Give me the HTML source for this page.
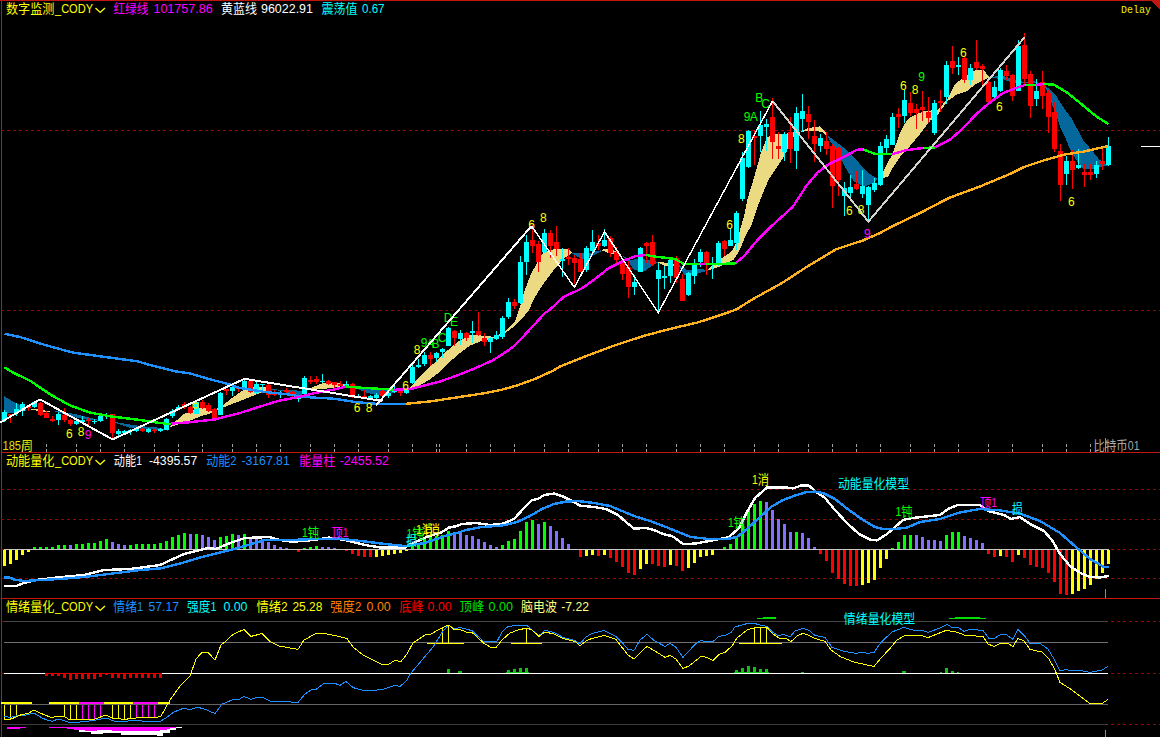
<!DOCTYPE html>
<html lang="zh"><head><meta charset="utf-8"><title>chart</title>
<style>html,body{margin:0;padding:0;background:#000;overflow:hidden}body{width:1160px;height:737px}svg text{font-family:"Liberation Sans","Noto Sans CJK SC",sans-serif;font-size:12px}svg text.mono{font-family:"Liberation Mono",monospace;font-size:11px}</style></head>
<body>
<svg width="1160" height="737" viewBox="0 0 1160 737" style="display:block">
<rect width="1160" height="737" fill="#000"/>
<g shape-rendering="crispEdges">
<rect x="0" y="0" width="1160" height="1" fill="#C01810"/>
<rect x="1" y="0" width="1" height="737" fill="#C01810"/>
<rect x="1" y="452" width="1160" height="1" fill="#C01810"/>
<rect x="1" y="598" width="1160" height="1" fill="#C01810"/>
<polygon points="1150,0 1160,0 1160,10" fill="#C01810"/>
<line x1="1" y1="130.5" x2="1160" y2="130.5" stroke="#A00000" stroke-width="1" stroke-dasharray="3 3"/>
<line x1="1" y1="310.5" x2="1160" y2="310.5" stroke="#A00000" stroke-width="1" stroke-dasharray="3 3"/>
<line x1="1" y1="489.5" x2="1160" y2="489.5" stroke="#A00000" stroke-width="1" stroke-dasharray="3 3"/>
<line x1="1" y1="519.5" x2="1160" y2="519.5" stroke="#A00000" stroke-width="1" stroke-dasharray="3 3"/>
<line x1="1" y1="549.5" x2="1160" y2="549.5" stroke="#A00000" stroke-width="1" stroke-dasharray="3 3"/>
<line x1="1" y1="578.5" x2="1160" y2="578.5" stroke="#A00000" stroke-width="1" stroke-dasharray="3 3"/>
<line x1="1" y1="621.5" x2="1160" y2="621.5" stroke="#A00000" stroke-width="1" stroke-dasharray="3 3"/>
<line x1="1" y1="673.5" x2="1160" y2="673.5" stroke="#A00000" stroke-width="1" stroke-dasharray="3 3"/>
<line x1="1" y1="724.5" x2="1160" y2="724.5" stroke="#A00000" stroke-width="1" stroke-dasharray="3 3"/>
</g>
<polygon points="4,396 12,401 20,405 27,410 27,410.3 20,411.5 12,413 4,414" fill="#04689C" shape-rendering="crispEdges"/>
<polygon points="31,408.5 38,409 50,411.5 50,412 44,411.8 36,410.5 31,409.5" fill="#ECDA82" shape-rendering="crispEdges"/>
<polygon points="55,410.8 68,412.8 75,414 87.4,417.2 97.8,419.7 108,421 108,421.5 97.8,420.6 87.4,419.8 75,417.2 68,415.4 55,411.4" fill="#04689C" shape-rendering="crispEdges"/>
<polygon points="115,422 130,424.5 141,426.2 155,427.2 168,429.5 168,430.6 155,429.6 141,428.8 130,428 123,425.5 115,422.6" fill="#04689C" shape-rendering="crispEdges"/>
<polygon points="169,427 184,414 192,411 200,408 206,408.5 212,411 222,406 232,398 244,389.5 254,387 262,386.5 270,388 270,388.5 265,391 255,395 244,399.5 232,404 222,408 212,413 200,416.5 190,420.5 180,424 169,427.5" fill="#ECDA82" shape-rendering="crispEdges"/>
<polygon points="271,389 283.6,390 301.5,390.7 305,392.5 305,393.5 300,395 290,394 283.6,391.2 271,389.6" fill="#04689C" shape-rendering="crispEdges"/>
<polygon points="309.8,388.4 316,385.8 322.6,383.2 336,383.2 347,384 347,385.5 338,386.8 330,388.2 322,389 309.8,389" fill="#ECDA82" shape-rendering="crispEdges"/>
<polygon points="346,385.5 360,387.5 380,389 394,391 394,392.5 384,394.6 378,395.2 372,394.2 365.7,392.4 357.5,389 352,387.8 346,386" fill="#04689C" shape-rendering="crispEdges"/>
<polygon points="405,392 411,386.5 420,376 432.5,364.5 445,352.5 457.5,342 470,335 482.5,335.6 495,337 505,331 515,321 519,310 524.4,291.4 531,273.8 536.6,264 543.4,252 554,249.3 567.8,248.7 572,252.7 572,253 565,257.5 560,263 555,268.5 550,275 543.4,284 535,296.8 529,310 525,315 515,326 505,333 495,338 482.5,340.6 470,345.6 457.5,355 445,366 438.6,372.8 428.3,380.5 414.5,388 405,392.6" fill="#ECDA82" shape-rendering="crispEdges"/>
<polygon points="572,252.8 584,253 590,253 595,251.6 601,250.3 601,251.5 596,254.2 592,256.2 588,257.4 581.7,259.4 576,255.7 572,253.3" fill="#04689C" shape-rendering="crispEdges"/>
<polygon points="601,251 604.5,248.7 608.5,248.5 615,250.7 622,255.4 622,255.6 615,254 608.5,253.4 604.5,251.4 601,251.2" fill="#ECDA82" shape-rendering="crispEdges"/>
<polygon points="623,256 630,260 640,258.8 650,260.3 658,262 658,262.3 652,266 645,271 640,271.5 634,269.7 630,264 623,256.3" fill="#04689C" shape-rendering="crispEdges"/>
<polygon points="658,262 664.4,262.5 679.3,264.5 679.3,265.5 672,266 664.4,265.9 658,262.3" fill="#ECDA82" shape-rendering="crispEdges"/>
<polygon points="679,265 688,270.5 700,268.5 708,270.3 708,270.6 694,274.7 684,275 679,266" fill="#04689C" shape-rendering="crispEdges"/>
<polygon points="707.8,269.5 721.4,258.4 732.2,251 737.7,239.4 740.4,228.6 744.4,215 747.5,199 755,174.3 760.8,153.4 766.5,138.2 772.2,134 785.5,134 789.3,132.5 800.7,131.6 807,128.5 814,127.2 819.7,126.4 825.4,131.6 827.3,135.4 827.3,136 822,132 814,130.6 807,131 800.7,132 795,135 789.3,142 787.4,149.6 783.6,157.2 776,168.6 768.4,180 759,202.8 752,224 745.8,235.3 739,251.6 733.6,259.8 721.4,265.9 707.8,270.5" fill="#ECDA82" shape-rendering="crispEdges"/>
<polygon points="827.3,135.4 835,141 844.5,148 854,157 863.5,168.4 870,174 877,178.3 877.8,178.9 873,183.6 863.5,186.5 854,181.7 845,166.7 840.6,159 833,145.8 827.3,136" fill="#04689C" shape-rendering="crispEdges"/>
<polygon points="882.5,172.5 887,164 892,155 899.6,134.2 905.3,122.8 909.5,118 914.8,115.2 922.8,111.5 938,109.6 947.5,99 955,83.9 962.7,78.2 976,69.7 983.6,69.7 989.3,77.3 989.3,77.8 983.6,80 976,83.9 966.5,91.5 957,94.4 947.5,101 938,114.3 930,120.9 919,135.2 909.5,146.6 901.5,155 892,169 888,176.5 882.5,178.4" fill="#ECDA82" shape-rendering="crispEdges"/>
<polygon points="989.3,77.3 1002.6,75.4 1014,80 1025,82 1033,81 1044,84.5 1044,85 1033,82.5 1025,83.5 1014,83 1010,82 1002.6,79 989.3,77.8" fill="#04689C" shape-rendering="crispEdges"/>
<polygon points="1044.6,85 1054.8,93.8 1064.3,108.7 1069,115 1072.4,119.5 1077.8,130 1083.3,140.8 1091.4,149.6 1099.5,159.8 1107.7,165 1107.7,165.5 1099.5,167.2 1091.4,169.3 1083.3,168.6 1077.8,162.5 1071,151.6 1064.3,135.3 1061,129 1057,118 1050.7,100.5 1044.6,85.5" fill="#04689C" shape-rendering="crispEdges"/>
<g shape-rendering="crispEdges">
<rect x="4" y="410" width="1" height="12" fill="#00FFFF"/>
<rect x="2" y="412" width="5" height="8" fill="#00FFFF"/>
<rect x="10" y="414" width="1" height="9" fill="#FF0000"/>
<rect x="8" y="414" width="5" height="2" fill="#FF0000"/>
<rect x="16" y="403" width="1" height="13" fill="#00FFFF"/>
<rect x="14" y="409" width="5" height="4" fill="#00FFFF"/>
<rect x="22" y="402" width="1" height="14" fill="#00FFFF"/>
<rect x="20" y="404" width="5" height="7" fill="#00FFFF"/>
<rect x="28" y="405" width="1" height="6" fill="#FF0000"/>
<rect x="26" y="406" width="5" height="2" fill="#FF0000"/>
<rect x="34" y="401" width="1" height="7" fill="#00FFFF"/>
<rect x="32" y="402" width="5" height="5" fill="#00FFFF"/>
<rect x="40" y="402" width="1" height="14" fill="#FF0000"/>
<rect x="38" y="403" width="5" height="12" fill="#FF0000"/>
<rect x="46" y="411" width="1" height="7" fill="#FF0000"/>
<rect x="44" y="413" width="5" height="5" fill="#FF0000"/>
<rect x="52" y="416" width="1" height="6" fill="#FF0000"/>
<rect x="50" y="419" width="5" height="2" fill="#FF0000"/>
<rect x="58" y="412" width="1" height="13" fill="#00FFFF"/>
<rect x="56" y="414" width="5" height="6" fill="#00FFFF"/>
<rect x="64" y="408" width="1" height="14" fill="#FF0000"/>
<rect x="62" y="415" width="5" height="5" fill="#FF0000"/>
<rect x="70" y="419" width="1" height="7" fill="#FF0000"/>
<rect x="68" y="420" width="5" height="4" fill="#FF0000"/>
<rect x="76" y="420" width="1" height="5" fill="#00FFFF"/>
<rect x="74" y="421" width="5" height="3" fill="#00FFFF"/>
<rect x="82" y="416" width="1" height="8" fill="#00FFFF"/>
<rect x="80" y="420" width="5" height="2" fill="#00FFFF"/>
<rect x="88" y="418" width="1" height="8" fill="#FF0000"/>
<rect x="86" y="420" width="5" height="1" fill="#FF0000"/>
<rect x="94" y="419" width="1" height="5" fill="#00FFFF"/>
<rect x="92" y="421" width="5" height="1" fill="#00FFFF"/>
<rect x="100" y="415" width="1" height="7" fill="#00FFFF"/>
<rect x="98" y="416" width="5" height="5" fill="#00FFFF"/>
<rect x="106" y="413" width="1" height="6" fill="#00FFFF"/>
<rect x="104" y="415" width="5" height="1" fill="#00FFFF"/>
<rect x="112" y="414" width="1" height="24" fill="#FF0000"/>
<rect x="110" y="414" width="5" height="19" fill="#FF0000"/>
<rect x="118" y="429" width="1" height="7" fill="#00FFFF"/>
<rect x="116" y="431" width="5" height="3" fill="#00FFFF"/>
<rect x="124" y="430" width="1" height="4" fill="#00FFFF"/>
<rect x="122" y="431" width="5" height="2" fill="#00FFFF"/>
<rect x="130" y="429" width="1" height="6" fill="#00FFFF"/>
<rect x="128" y="430" width="5" height="1" fill="#00FFFF"/>
<rect x="136" y="428" width="1" height="4" fill="#00FFFF"/>
<rect x="134" y="429" width="5" height="2" fill="#00FFFF"/>
<rect x="142" y="428" width="1" height="4" fill="#FF0000"/>
<rect x="140" y="429" width="5" height="2" fill="#FF0000"/>
<rect x="148" y="428" width="1" height="5" fill="#00FFFF"/>
<rect x="146" y="429" width="5" height="3" fill="#00FFFF"/>
<rect x="154" y="429" width="1" height="4" fill="#FF0000"/>
<rect x="152" y="430" width="5" height="1" fill="#FF0000"/>
<rect x="160" y="428" width="1" height="4" fill="#00FFFF"/>
<rect x="158" y="429" width="5" height="2" fill="#00FFFF"/>
<rect x="166" y="418" width="1" height="12" fill="#00FFFF"/>
<rect x="164" y="419" width="5" height="11" fill="#00FFFF"/>
<rect x="172" y="409" width="1" height="9" fill="#00FFFF"/>
<rect x="170" y="411" width="5" height="5" fill="#00FFFF"/>
<rect x="178" y="405" width="1" height="4" fill="#00FFFF"/>
<rect x="176" y="407" width="5" height="2" fill="#00FFFF"/>
<rect x="184" y="402" width="1" height="7" fill="#FF0000"/>
<rect x="182" y="404" width="5" height="2" fill="#FF0000"/>
<rect x="190" y="406" width="1" height="8" fill="#FF0000"/>
<rect x="188" y="407" width="5" height="6" fill="#FF0000"/>
<rect x="196" y="400" width="1" height="14" fill="#00FFFF"/>
<rect x="194" y="402" width="5" height="12" fill="#00FFFF"/>
<rect x="202" y="400" width="1" height="9" fill="#FF0000"/>
<rect x="200" y="402" width="5" height="6" fill="#FF0000"/>
<rect x="208" y="403" width="1" height="9" fill="#FF0000"/>
<rect x="206" y="405" width="5" height="6" fill="#FF0000"/>
<rect x="214" y="408" width="1" height="11" fill="#FF0000"/>
<rect x="212" y="409" width="5" height="10" fill="#FF0000"/>
<rect x="220" y="392" width="1" height="23" fill="#00FFFF"/>
<rect x="218" y="393" width="5" height="22" fill="#00FFFF"/>
<rect x="226" y="389" width="1" height="6" fill="#FF0000"/>
<rect x="224" y="389" width="5" height="2" fill="#FF0000"/>
<rect x="232" y="386" width="1" height="10" fill="#00FFFF"/>
<rect x="230" y="387" width="5" height="4" fill="#00FFFF"/>
<rect x="238" y="387" width="1" height="5" fill="#FF0000"/>
<rect x="236" y="388" width="5" height="1" fill="#FF0000"/>
<rect x="244" y="380" width="1" height="8" fill="#00FFFF"/>
<rect x="242" y="381" width="5" height="7" fill="#00FFFF"/>
<rect x="250" y="380" width="1" height="13" fill="#FF0000"/>
<rect x="248" y="381" width="5" height="11" fill="#FF0000"/>
<rect x="256" y="382" width="1" height="12" fill="#00FFFF"/>
<rect x="254" y="384" width="5" height="9" fill="#00FFFF"/>
<rect x="262" y="384" width="1" height="6" fill="#00FFFF"/>
<rect x="260" y="384" width="5" height="1" fill="#00FFFF"/>
<rect x="268" y="384" width="1" height="14" fill="#FF0000"/>
<rect x="266" y="385" width="5" height="10" fill="#FF0000"/>
<rect x="274" y="390" width="1" height="6" fill="#FF0000"/>
<rect x="272" y="394" width="5" height="1" fill="#FF0000"/>
<rect x="280" y="391" width="1" height="7" fill="#00FFFF"/>
<rect x="278" y="394" width="5" height="1" fill="#00FFFF"/>
<rect x="286" y="388" width="1" height="5" fill="#FF0000"/>
<rect x="284" y="390" width="5" height="2" fill="#FF0000"/>
<rect x="292" y="391" width="1" height="8" fill="#FF0000"/>
<rect x="290" y="392" width="5" height="2" fill="#FF0000"/>
<rect x="298" y="397" width="1" height="5" fill="#00FFFF"/>
<rect x="296" y="398" width="5" height="1" fill="#00FFFF"/>
<rect x="304" y="376" width="1" height="19" fill="#00FFFF"/>
<rect x="302" y="378" width="5" height="16" fill="#00FFFF"/>
<rect x="310" y="376" width="1" height="8" fill="#FF0000"/>
<rect x="308" y="380" width="5" height="2" fill="#FF0000"/>
<rect x="316" y="376" width="1" height="8" fill="#FF0000"/>
<rect x="314" y="379" width="5" height="3" fill="#FF0000"/>
<rect x="322" y="374" width="1" height="9" fill="#00FFFF"/>
<rect x="320" y="381" width="5" height="1" fill="#00FFFF"/>
<rect x="328" y="380" width="1" height="5" fill="#FF0000"/>
<rect x="326" y="381" width="5" height="3" fill="#FF0000"/>
<rect x="334" y="382" width="1" height="6" fill="#FF0000"/>
<rect x="332" y="382" width="5" height="3" fill="#FF0000"/>
<rect x="340" y="381" width="1" height="5" fill="#FF0000"/>
<rect x="338" y="384" width="5" height="2" fill="#FF0000"/>
<rect x="346" y="381" width="1" height="5" fill="#00FFFF"/>
<rect x="344" y="384" width="5" height="2" fill="#00FFFF"/>
<rect x="352" y="383" width="1" height="15" fill="#FF0000"/>
<rect x="350" y="384" width="5" height="12" fill="#FF0000"/>
<rect x="358" y="394" width="1" height="4" fill="#00FFFF"/>
<rect x="356" y="396" width="5" height="1" fill="#00FFFF"/>
<rect x="364" y="390" width="1" height="8" fill="#FF0000"/>
<rect x="362" y="396" width="5" height="1" fill="#FF0000"/>
<rect x="370" y="395" width="1" height="4" fill="#00FFFF"/>
<rect x="368" y="396" width="5" height="2" fill="#00FFFF"/>
<rect x="376" y="393" width="1" height="7" fill="#00FFFF"/>
<rect x="374" y="395" width="5" height="3" fill="#00FFFF"/>
<rect x="382" y="390" width="1" height="7" fill="#FF0000"/>
<rect x="380" y="391" width="5" height="5" fill="#FF0000"/>
<rect x="388" y="392" width="1" height="6" fill="#00FFFF"/>
<rect x="386" y="393" width="5" height="3" fill="#00FFFF"/>
<rect x="394" y="386" width="1" height="7" fill="#00FFFF"/>
<rect x="392" y="391" width="5" height="1" fill="#00FFFF"/>
<rect x="400" y="390" width="1" height="6" fill="#FF0000"/>
<rect x="398" y="391" width="5" height="2" fill="#FF0000"/>
<rect x="406" y="389" width="1" height="5" fill="#00FFFF"/>
<rect x="404" y="390" width="5" height="3" fill="#00FFFF"/>
<rect x="412" y="365" width="1" height="19" fill="#00FFFF"/>
<rect x="410" y="367" width="5" height="16" fill="#00FFFF"/>
<rect x="418" y="359" width="1" height="9" fill="#00FFFF"/>
<rect x="416" y="365" width="5" height="2" fill="#00FFFF"/>
<rect x="424" y="352" width="1" height="14" fill="#00FFFF"/>
<rect x="422" y="355" width="5" height="9" fill="#00FFFF"/>
<rect x="430" y="352" width="1" height="14" fill="#FF0000"/>
<rect x="428" y="355" width="5" height="4" fill="#FF0000"/>
<rect x="436" y="352" width="1" height="10" fill="#00FFFF"/>
<rect x="434" y="353" width="5" height="5" fill="#00FFFF"/>
<rect x="442" y="348" width="1" height="10" fill="#00FFFF"/>
<rect x="440" y="349" width="5" height="3" fill="#00FFFF"/>
<rect x="448" y="327" width="1" height="19" fill="#00FFFF"/>
<rect x="446" y="328" width="5" height="18" fill="#00FFFF"/>
<rect x="454" y="330" width="1" height="16" fill="#FF0000"/>
<rect x="452" y="331" width="5" height="7" fill="#FF0000"/>
<rect x="460" y="330" width="1" height="15" fill="#00FFFF"/>
<rect x="458" y="333" width="5" height="6" fill="#00FFFF"/>
<rect x="466" y="332" width="1" height="9" fill="#FF0000"/>
<rect x="464" y="333" width="5" height="5" fill="#FF0000"/>
<rect x="472" y="321" width="1" height="22" fill="#00FFFF"/>
<rect x="470" y="331" width="5" height="2" fill="#00FFFF"/>
<rect x="478" y="312" width="1" height="24" fill="#FF0000"/>
<rect x="476" y="331" width="5" height="4" fill="#FF0000"/>
<rect x="484" y="333" width="1" height="13" fill="#FF0000"/>
<rect x="482" y="338" width="5" height="4" fill="#FF0000"/>
<rect x="490" y="337" width="1" height="16" fill="#00FFFF"/>
<rect x="488" y="338" width="5" height="4" fill="#00FFFF"/>
<rect x="496" y="331" width="1" height="9" fill="#00FFFF"/>
<rect x="494" y="335" width="5" height="4" fill="#00FFFF"/>
<rect x="502" y="316" width="1" height="23" fill="#00FFFF"/>
<rect x="500" y="318" width="5" height="19" fill="#00FFFF"/>
<rect x="508" y="298" width="1" height="21" fill="#00FFFF"/>
<rect x="506" y="302" width="5" height="15" fill="#00FFFF"/>
<rect x="514" y="299" width="1" height="10" fill="#FF0000"/>
<rect x="512" y="302" width="5" height="4" fill="#FF0000"/>
<rect x="520" y="256" width="1" height="48" fill="#00FFFF"/>
<rect x="518" y="262" width="5" height="41" fill="#00FFFF"/>
<rect x="526" y="235" width="1" height="40" fill="#00FFFF"/>
<rect x="524" y="242" width="5" height="20" fill="#00FFFF"/>
<rect x="532" y="225" width="1" height="28" fill="#FF0000"/>
<rect x="530" y="240" width="5" height="6" fill="#FF0000"/>
<rect x="538" y="241" width="1" height="31" fill="#FF0000"/>
<rect x="536" y="244" width="5" height="18" fill="#FF0000"/>
<rect x="544" y="229" width="1" height="24" fill="#00FFFF"/>
<rect x="542" y="233" width="5" height="19" fill="#00FFFF"/>
<rect x="550" y="230" width="1" height="28" fill="#FF0000"/>
<rect x="548" y="233" width="5" height="13" fill="#FF0000"/>
<rect x="556" y="226" width="1" height="30" fill="#FF0000"/>
<rect x="554" y="242" width="5" height="7" fill="#FF0000"/>
<rect x="562" y="248" width="1" height="29" fill="#00FFFF"/>
<rect x="560" y="259" width="5" height="2" fill="#00FFFF"/>
<rect x="568" y="248" width="1" height="17" fill="#FF0000"/>
<rect x="566" y="257" width="5" height="2" fill="#FF0000"/>
<rect x="574" y="255" width="1" height="29" fill="#FF0000"/>
<rect x="572" y="258" width="5" height="5" fill="#FF0000"/>
<rect x="580" y="253" width="1" height="19" fill="#FF0000"/>
<rect x="578" y="259" width="5" height="13" fill="#FF0000"/>
<rect x="586" y="246" width="1" height="26" fill="#00FFFF"/>
<rect x="584" y="248" width="5" height="22" fill="#00FFFF"/>
<rect x="592" y="230" width="1" height="22" fill="#00FFFF"/>
<rect x="590" y="242" width="5" height="9" fill="#00FFFF"/>
<rect x="598" y="235" width="1" height="15" fill="#FF0000"/>
<rect x="596" y="243" width="5" height="3" fill="#FF0000"/>
<rect x="604" y="229" width="1" height="18" fill="#00FFFF"/>
<rect x="602" y="240" width="5" height="6" fill="#00FFFF"/>
<rect x="610" y="236" width="1" height="21" fill="#FF0000"/>
<rect x="608" y="238" width="5" height="15" fill="#FF0000"/>
<rect x="616" y="247" width="1" height="16" fill="#FF0000"/>
<rect x="614" y="252" width="5" height="8" fill="#FF0000"/>
<rect x="622" y="260" width="1" height="20" fill="#FF0000"/>
<rect x="620" y="261" width="5" height="13" fill="#FF0000"/>
<rect x="628" y="261" width="1" height="37" fill="#FF0000"/>
<rect x="626" y="267" width="5" height="20" fill="#FF0000"/>
<rect x="634" y="275" width="1" height="20" fill="#00FFFF"/>
<rect x="632" y="282" width="5" height="5" fill="#00FFFF"/>
<rect x="640" y="247" width="1" height="25" fill="#00FFFF"/>
<rect x="638" y="248" width="5" height="24" fill="#00FFFF"/>
<rect x="646" y="242" width="1" height="21" fill="#FF0000"/>
<rect x="644" y="243" width="5" height="3" fill="#FF0000"/>
<rect x="652" y="235" width="1" height="31" fill="#FF0000"/>
<rect x="650" y="242" width="5" height="22" fill="#FF0000"/>
<rect x="658" y="263" width="1" height="49" fill="#00FFFF"/>
<rect x="656" y="270" width="5" height="9" fill="#00FFFF"/>
<rect x="664" y="266" width="1" height="23" fill="#00FFFF"/>
<rect x="662" y="276" width="5" height="2" fill="#00FFFF"/>
<rect x="670" y="260" width="1" height="23" fill="#00FFFF"/>
<rect x="668" y="260" width="5" height="16" fill="#00FFFF"/>
<rect x="676" y="256" width="1" height="27" fill="#FF0000"/>
<rect x="674" y="258" width="5" height="20" fill="#FF0000"/>
<rect x="682" y="274" width="1" height="27" fill="#FF0000"/>
<rect x="680" y="279" width="5" height="22" fill="#FF0000"/>
<rect x="688" y="272" width="1" height="24" fill="#00FFFF"/>
<rect x="686" y="273" width="5" height="22" fill="#00FFFF"/>
<rect x="694" y="259" width="1" height="25" fill="#00FFFF"/>
<rect x="692" y="263" width="5" height="13" fill="#00FFFF"/>
<rect x="700" y="249" width="1" height="18" fill="#00FFFF"/>
<rect x="698" y="252" width="5" height="10" fill="#00FFFF"/>
<rect x="706" y="251" width="1" height="24" fill="#FF0000"/>
<rect x="704" y="252" width="5" height="13" fill="#FF0000"/>
<rect x="712" y="257" width="1" height="22" fill="#00FFFF"/>
<rect x="710" y="263" width="5" height="1" fill="#00FFFF"/>
<rect x="718" y="241" width="1" height="25" fill="#00FFFF"/>
<rect x="716" y="243" width="5" height="22" fill="#00FFFF"/>
<rect x="724" y="240" width="1" height="16" fill="#FF0000"/>
<rect x="722" y="241" width="5" height="8" fill="#FF0000"/>
<rect x="730" y="228" width="1" height="18" fill="#00FFFF"/>
<rect x="728" y="240" width="5" height="6" fill="#00FFFF"/>
<rect x="736" y="211" width="1" height="39" fill="#00FFFF"/>
<rect x="734" y="213" width="5" height="30" fill="#00FFFF"/>
<rect x="742" y="152" width="1" height="49" fill="#00FFFF"/>
<rect x="740" y="158" width="5" height="41" fill="#00FFFF"/>
<rect x="748" y="130" width="1" height="38" fill="#00FFFF"/>
<rect x="746" y="131" width="5" height="36" fill="#00FFFF"/>
<rect x="754" y="130" width="1" height="35" fill="#FF0000"/>
<rect x="752" y="136" width="5" height="2" fill="#FF0000"/>
<rect x="760" y="111" width="1" height="41" fill="#00FFFF"/>
<rect x="758" y="125" width="5" height="11" fill="#00FFFF"/>
<rect x="766" y="119" width="1" height="32" fill="#00FFFF"/>
<rect x="764" y="124" width="5" height="3" fill="#00FFFF"/>
<rect x="772" y="98" width="1" height="61" fill="#FF0000"/>
<rect x="770" y="117" width="5" height="25" fill="#FF0000"/>
<rect x="778" y="132" width="1" height="27" fill="#FF0000"/>
<rect x="776" y="146" width="5" height="3" fill="#FF0000"/>
<rect x="784" y="132" width="1" height="29" fill="#00FFFF"/>
<rect x="782" y="134" width="5" height="18" fill="#00FFFF"/>
<rect x="790" y="117" width="1" height="46" fill="#FF0000"/>
<rect x="788" y="132" width="5" height="17" fill="#FF0000"/>
<rect x="796" y="107" width="1" height="62" fill="#00FFFF"/>
<rect x="794" y="113" width="5" height="38" fill="#00FFFF"/>
<rect x="802" y="94" width="1" height="38" fill="#00FFFF"/>
<rect x="800" y="111" width="5" height="8" fill="#00FFFF"/>
<rect x="808" y="106" width="1" height="33" fill="#FF0000"/>
<rect x="806" y="114" width="5" height="8" fill="#FF0000"/>
<rect x="814" y="120" width="1" height="42" fill="#FF0000"/>
<rect x="812" y="136" width="5" height="8" fill="#FF0000"/>
<rect x="820" y="134" width="1" height="18" fill="#00FFFF"/>
<rect x="818" y="138" width="5" height="8" fill="#00FFFF"/>
<rect x="826" y="132" width="1" height="23" fill="#FF0000"/>
<rect x="824" y="141" width="5" height="8" fill="#FF0000"/>
<rect x="832" y="144" width="1" height="64" fill="#FF0000"/>
<rect x="830" y="146" width="5" height="40" fill="#FF0000"/>
<rect x="838" y="147" width="1" height="49" fill="#FF0000"/>
<rect x="836" y="148" width="5" height="32" fill="#FF0000"/>
<rect x="844" y="182" width="1" height="34" fill="#00FFFF"/>
<rect x="842" y="188" width="5" height="8" fill="#00FFFF"/>
<rect x="850" y="175" width="1" height="23" fill="#00FFFF"/>
<rect x="848" y="187" width="5" height="6" fill="#00FFFF"/>
<rect x="856" y="171" width="1" height="19" fill="#FF0000"/>
<rect x="854" y="184" width="5" height="5" fill="#FF0000"/>
<rect x="862" y="170" width="1" height="28" fill="#00FFFF"/>
<rect x="860" y="186" width="5" height="8" fill="#00FFFF"/>
<rect x="868" y="186" width="1" height="36" fill="#00FFFF"/>
<rect x="866" y="187" width="5" height="18" fill="#00FFFF"/>
<rect x="874" y="178" width="1" height="14" fill="#00FFFF"/>
<rect x="872" y="183" width="5" height="7" fill="#00FFFF"/>
<rect x="880" y="142" width="1" height="44" fill="#00FFFF"/>
<rect x="878" y="146" width="5" height="39" fill="#00FFFF"/>
<rect x="886" y="135" width="1" height="18" fill="#00FFFF"/>
<rect x="884" y="139" width="5" height="9" fill="#00FFFF"/>
<rect x="892" y="113" width="1" height="32" fill="#00FFFF"/>
<rect x="890" y="117" width="5" height="28" fill="#00FFFF"/>
<rect x="898" y="108" width="1" height="20" fill="#FF0000"/>
<rect x="896" y="114" width="5" height="3" fill="#FF0000"/>
<rect x="904" y="90" width="1" height="33" fill="#00FFFF"/>
<rect x="902" y="100" width="5" height="16" fill="#00FFFF"/>
<rect x="910" y="92" width="1" height="24" fill="#FF0000"/>
<rect x="908" y="103" width="5" height="10" fill="#FF0000"/>
<rect x="916" y="104" width="1" height="25" fill="#FF0000"/>
<rect x="914" y="109" width="5" height="4" fill="#FF0000"/>
<rect x="922" y="91" width="1" height="30" fill="#FF0000"/>
<rect x="920" y="107" width="5" height="3" fill="#FF0000"/>
<rect x="928" y="97" width="1" height="26" fill="#FF0000"/>
<rect x="926" y="112" width="5" height="6" fill="#FF0000"/>
<rect x="934" y="100" width="1" height="35" fill="#00FFFF"/>
<rect x="932" y="103" width="5" height="30" fill="#00FFFF"/>
<rect x="940" y="90" width="1" height="22" fill="#FF0000"/>
<rect x="938" y="101" width="5" height="2" fill="#FF0000"/>
<rect x="946" y="61" width="1" height="43" fill="#00FFFF"/>
<rect x="944" y="65" width="5" height="32" fill="#00FFFF"/>
<rect x="952" y="46" width="1" height="28" fill="#FF0000"/>
<rect x="950" y="61" width="5" height="7" fill="#FF0000"/>
<rect x="958" y="57" width="1" height="18" fill="#00FFFF"/>
<rect x="956" y="65" width="5" height="2" fill="#00FFFF"/>
<rect x="964" y="56" width="1" height="27" fill="#FF0000"/>
<rect x="962" y="58" width="5" height="22" fill="#FF0000"/>
<rect x="970" y="64" width="1" height="21" fill="#00FFFF"/>
<rect x="968" y="68" width="5" height="12" fill="#00FFFF"/>
<rect x="976" y="40" width="1" height="30" fill="#FF0000"/>
<rect x="974" y="62" width="5" height="6" fill="#FF0000"/>
<rect x="982" y="64" width="1" height="22" fill="#FF0000"/>
<rect x="980" y="66" width="5" height="3" fill="#FF0000"/>
<rect x="988" y="81" width="1" height="22" fill="#FF0000"/>
<rect x="986" y="82" width="5" height="20" fill="#FF0000"/>
<rect x="994" y="81" width="1" height="19" fill="#00FFFF"/>
<rect x="992" y="87" width="5" height="10" fill="#00FFFF"/>
<rect x="1000" y="68" width="1" height="24" fill="#00FFFF"/>
<rect x="998" y="70" width="5" height="21" fill="#00FFFF"/>
<rect x="1006" y="65" width="1" height="15" fill="#FF0000"/>
<rect x="1004" y="71" width="5" height="5" fill="#FF0000"/>
<rect x="1012" y="74" width="1" height="27" fill="#FF0000"/>
<rect x="1010" y="75" width="5" height="21" fill="#FF0000"/>
<rect x="1018" y="40" width="1" height="51" fill="#00FFFF"/>
<rect x="1016" y="46" width="5" height="45" fill="#00FFFF"/>
<rect x="1024" y="33" width="1" height="51" fill="#FF0000"/>
<rect x="1022" y="45" width="5" height="34" fill="#FF0000"/>
<rect x="1030" y="71" width="1" height="47" fill="#FF0000"/>
<rect x="1028" y="74" width="5" height="32" fill="#FF0000"/>
<rect x="1036" y="79" width="1" height="27" fill="#00FFFF"/>
<rect x="1034" y="91" width="5" height="8" fill="#00FFFF"/>
<rect x="1042" y="71" width="1" height="38" fill="#FF0000"/>
<rect x="1040" y="82" width="5" height="14" fill="#FF0000"/>
<rect x="1048" y="90" width="1" height="43" fill="#FF0000"/>
<rect x="1046" y="93" width="5" height="24" fill="#FF0000"/>
<rect x="1054" y="102" width="1" height="50" fill="#FF0000"/>
<rect x="1052" y="112" width="5" height="37" fill="#FF0000"/>
<rect x="1060" y="144" width="1" height="57" fill="#FF0000"/>
<rect x="1058" y="151" width="5" height="34" fill="#FF0000"/>
<rect x="1066" y="156" width="1" height="29" fill="#00FFFF"/>
<rect x="1064" y="161" width="5" height="13" fill="#00FFFF"/>
<rect x="1072" y="150" width="1" height="39" fill="#FF0000"/>
<rect x="1070" y="161" width="5" height="9" fill="#FF0000"/>
<rect x="1078" y="149" width="1" height="20" fill="#00FFFF"/>
<rect x="1076" y="165" width="5" height="3" fill="#00FFFF"/>
<rect x="1084" y="164" width="1" height="23" fill="#FF0000"/>
<rect x="1082" y="172" width="5" height="3" fill="#FF0000"/>
<rect x="1090" y="164" width="1" height="16" fill="#FF0000"/>
<rect x="1088" y="172" width="5" height="3" fill="#FF0000"/>
<rect x="1096" y="161" width="1" height="17" fill="#00FFFF"/>
<rect x="1094" y="165" width="5" height="9" fill="#00FFFF"/>
<rect x="1102" y="149" width="1" height="21" fill="#FF0000"/>
<rect x="1100" y="161" width="5" height="3" fill="#FF0000"/>
<rect x="1108" y="137" width="1" height="29" fill="#00FFFF"/>
<rect x="1106" y="146" width="5" height="19" fill="#00FFFF"/>
</g>
<polyline points="4.5,333.8 20,337 45,345 72.5,352.5 100,356.3 137.5,361.3 148,364.5 175,371.3 190,373.5 212.5,380 230,384.4 237.5,387.5 252.5,390 265,392 280,393.5 290,394.7 304.5,397 335,398.8 355,402 376,403.8 406,403.8" fill="none" stroke="#1E90FF" stroke-width="2.4" stroke-linejoin="round" shape-rendering="crispEdges"/>
<polyline points="406,403.8 431.7,401.2 449,398.6 466.2,396 483.4,393.4 500.7,390 517.9,385.2 535.2,378.8 552.4,371 560,366.5 587.6,355.5 615,345.3 642.8,336.2 670.3,328.8 698,322.4 725.5,313.3 736.5,309.4 753,299 780.7,283.8 808.3,265.9 835.9,249.3 863.4,240.3 880,233 892,226.5 920.5,212.8 949,197.9 980,186.5 1010,174 1023.6,167.2 1044,160.4 1064.3,154.6 1084.6,151.4 1108.3,146" fill="none" stroke="#FFB020" stroke-width="2.4" stroke-linejoin="round" shape-rendering="crispEdges"/>
<polyline points="4.5,367.5 15,373.6 30,380.6 50,394.3 70,405.4 90,412.6 110,416.3 142.5,420.3 160,423 171.5,424.3" fill="none" stroke="#00FF00" stroke-width="2.4" stroke-linejoin="round" shape-rendering="crispEdges"/>
<polyline points="171.5,423.6 190,422.2 215,419.4 240,413 265,405 280,400.5 299,397 317.5,392.5 335,389.4 346,386.5" fill="none" stroke="#FF00FF" stroke-width="2.4" stroke-linejoin="round" shape-rendering="crispEdges"/>
<polyline points="346,386.5 357,387.5 382.5,389 394,389.8" fill="none" stroke="#00FF00" stroke-width="2.4" stroke-linejoin="round" shape-rendering="crispEdges"/>
<polyline points="394,389.8 411,389 424.8,385.2 440.3,381.4 457.6,375.3 474.8,368.4 492,360.7 500.7,355.5 512,347.7 522,338 545,313 549.5,310 563.8,296.8 581.4,288.7 595,279 608.5,268.3 622,261.5 635.6,256 646,255" fill="none" stroke="#FF00FF" stroke-width="2.4" stroke-linejoin="round" shape-rendering="crispEdges"/>
<polyline points="646,255 653.6,256.4 675.3,259 683.4,263.8 699.7,264" fill="none" stroke="#00FF00" stroke-width="2.4" stroke-linejoin="round" shape-rendering="crispEdges"/>
<polyline points="699.7,264 706.5,264" fill="none" stroke="#FF00FF" stroke-width="2.4" stroke-linejoin="round" shape-rendering="crispEdges"/>
<polyline points="706.5,264 733.6,263.6 736.3,262.5" fill="none" stroke="#00FF00" stroke-width="2.4" stroke-linejoin="round" shape-rendering="crispEdges"/>
<polyline points="736.3,262.5 744.4,255.7 758,239.4 770.2,227.2 783.8,215 793,206.6 806.4,185.7 817.8,172.4 829.2,163.9 845,156.3 856.9,149.8 863,149.4" fill="none" stroke="#FF00FF" stroke-width="2.4" stroke-linejoin="round" shape-rendering="crispEdges"/>
<polyline points="863,149.4 875,153.8 892,154.2" fill="none" stroke="#00FF00" stroke-width="2.4" stroke-linejoin="round" shape-rendering="crispEdges"/>
<polyline points="892,154.2 905.3,150.4 923.4,147.9" fill="none" stroke="#FF00FF" stroke-width="2.4" stroke-linejoin="round" shape-rendering="crispEdges"/>
<polyline points="923.4,147.9 934.8,147.5" fill="none" stroke="#00FF00" stroke-width="2.4" stroke-linejoin="round" shape-rendering="crispEdges"/>
<polyline points="934.8,147.5 951,139 962.7,128.6 976,114.3 989.3,103 1002.6,93.4 1014,88.7 1025,85" fill="none" stroke="#FF00FF" stroke-width="2.4" stroke-linejoin="round" shape-rendering="crispEdges"/>
<polyline points="1025,85 1035.8,85" fill="none" stroke="#00FF00" stroke-width="2.4" stroke-linejoin="round" shape-rendering="crispEdges"/>
<polyline points="1035.8,85 1043.2,84" fill="none" stroke="#FF00FF" stroke-width="2.4" stroke-linejoin="round" shape-rendering="crispEdges"/>
<polyline points="1043.2,84 1054,84.7 1067,92.4 1082,104.6 1096.8,116.8 1108.3,123.9" fill="none" stroke="#00FF00" stroke-width="2.4" stroke-linejoin="round" shape-rendering="crispEdges"/>
<text x="69.3" y="437.9" text-anchor="middle" fill="#FFFF00">6</text>
<text x="81" y="436.3" text-anchor="middle" fill="#FFFF00">8</text>
<text x="88" y="439.3" text-anchor="middle" fill="#FF00FF">9</text>
<text x="357" y="411.8" text-anchor="middle" fill="#FFFF00">6</text>
<text x="369" y="412.3" text-anchor="middle" fill="#FFFF00">8</text>
<text x="405.6" y="389.9" text-anchor="middle" fill="#FFFF00">6</text>
<text x="417.2" y="353.6" text-anchor="middle" fill="#FFFF00">8</text>
<text x="424.2" y="346.8" text-anchor="middle" fill="#00FF00">9</text>
<text x="430.5" y="348.3" text-anchor="middle" fill="#00FF00">A</text>
<text x="435.4" y="348" text-anchor="middle" fill="#00FF00">B</text>
<text x="442" y="342.3" text-anchor="middle" fill="#00FF00">C</text>
<text x="448" y="321.8" text-anchor="middle" fill="#00FF00">D</text>
<text x="454" y="325.8" text-anchor="middle" fill="#00FF00">E</text>
<text x="531.5" y="229.3" text-anchor="middle" fill="#FFFF00">6</text>
<text x="543.4" y="221.8" text-anchor="middle" fill="#FFFF00">8</text>
<text x="729.5" y="228.8" text-anchor="middle" fill="#FFFF00">6</text>
<text x="741.4" y="143.1" text-anchor="middle" fill="#FFFF00">8</text>
<text x="747.2" y="120.7" text-anchor="middle" fill="#00FF00">9</text>
<text x="753.8" y="120.7" text-anchor="middle" fill="#00FF00">A</text>
<text x="759.3" y="102.3" text-anchor="middle" fill="#00FF00">B</text>
<text x="765.6" y="108.3" text-anchor="middle" fill="#00FF00">C</text>
<text x="849.3" y="215.3" text-anchor="middle" fill="#FFFF00">6</text>
<text x="861.2" y="214.3" text-anchor="middle" fill="#FFFF00">8</text>
<text x="867.3" y="238.3" text-anchor="middle" fill="#FF00FF">9</text>
<text x="903.4" y="90.1" text-anchor="middle" fill="#FFFF00">6</text>
<text x="915.2" y="93.9" text-anchor="middle" fill="#FFFF00">8</text>
<text x="921.5" y="80.6" text-anchor="middle" fill="#00FF00">9</text>
<text x="963.3" y="57.3" text-anchor="middle" fill="#FFFF00">6</text>
<text x="999.4" y="111" text-anchor="middle" fill="#FFFF00">6</text>
<text x="1071.3" y="205.8" text-anchor="middle" fill="#FFFF00">6</text>
<circle cx="195.6" cy="405.6" r="2.6" fill="none" stroke="#E8F000" stroke-width="1.3"/>
<polyline points="0,422.6 40,399.4 112.5,439.4 244.5,378.8 382.5,401" fill="none" stroke="#FFFFFF" stroke-width="2" stroke-linejoin="miter" shape-rendering="crispEdges"/>
<polyline points="376,405.5 531.5,226" fill="none" stroke="#FFFFFF" stroke-width="2" stroke-linejoin="miter" shape-rendering="crispEdges"/>
<polyline points="772.6,101 868.4,221.6 1024.5,37.4" fill="none" stroke="#D4D2CC" stroke-width="2" stroke-linejoin="miter" shape-rendering="crispEdges"/>
<polyline points="531.5,226 574.3,287.3 604.5,231.7 658.3,312.7 772.6,101" fill="none" stroke="#FFFFFF" stroke-width="1.45" stroke-linejoin="miter" shape-rendering="crispEdges"/>
<rect x="1141" y="146" width="19" height="1" fill="#fff" shape-rendering="crispEdges"/>
<g shape-rendering="crispEdges">
<rect x="22" y="444" width="1" height="8" fill="#909090"/>
<rect x="46" y="444" width="1" height="3" fill="#A0A0A0"/><rect x="46" y="449" width="1" height="3" fill="#A0A0A0"/>
<rect x="76" y="444" width="1" height="3" fill="#A0A0A0"/><rect x="76" y="449" width="1" height="3" fill="#A0A0A0"/>
<rect x="100" y="444" width="1" height="3" fill="#A0A0A0"/><rect x="100" y="449" width="1" height="3" fill="#A0A0A0"/>
<rect x="124" y="444" width="1" height="3" fill="#A0A0A0"/><rect x="124" y="449" width="1" height="3" fill="#A0A0A0"/>
<rect x="154" y="444" width="1" height="3" fill="#A0A0A0"/><rect x="154" y="449" width="1" height="3" fill="#A0A0A0"/>
<rect x="178" y="444" width="1" height="3" fill="#A0A0A0"/><rect x="178" y="449" width="1" height="3" fill="#A0A0A0"/>
<rect x="202" y="444" width="1" height="3" fill="#A0A0A0"/><rect x="202" y="449" width="1" height="3" fill="#A0A0A0"/>
<rect x="232" y="444" width="1" height="3" fill="#A0A0A0"/><rect x="232" y="449" width="1" height="3" fill="#A0A0A0"/>
<rect x="256" y="444" width="1" height="3" fill="#A0A0A0"/><rect x="256" y="449" width="1" height="3" fill="#A0A0A0"/>
<rect x="280" y="444" width="1" height="3" fill="#A0A0A0"/><rect x="280" y="449" width="1" height="3" fill="#A0A0A0"/>
<rect x="310" y="444" width="1" height="3" fill="#A0A0A0"/><rect x="310" y="449" width="1" height="3" fill="#A0A0A0"/>
<rect x="334" y="444" width="1" height="3" fill="#A0A0A0"/><rect x="334" y="449" width="1" height="3" fill="#A0A0A0"/>
<rect x="358" y="444" width="1" height="3" fill="#A0A0A0"/><rect x="358" y="449" width="1" height="3" fill="#A0A0A0"/>
<rect x="388" y="444" width="1" height="3" fill="#A0A0A0"/><rect x="388" y="449" width="1" height="3" fill="#A0A0A0"/>
<rect x="412" y="444" width="1" height="3" fill="#A0A0A0"/><rect x="412" y="449" width="1" height="3" fill="#A0A0A0"/>
<rect x="436" y="444" width="1" height="3" fill="#A0A0A0"/><rect x="436" y="449" width="1" height="3" fill="#A0A0A0"/>
<rect x="439" y="444" width="1" height="3" fill="#A0A0A0"/><rect x="439" y="449" width="1" height="3" fill="#A0A0A0"/>
<rect x="466" y="444" width="1" height="3" fill="#A0A0A0"/><rect x="466" y="449" width="1" height="3" fill="#A0A0A0"/>
<rect x="490" y="444" width="1" height="3" fill="#A0A0A0"/><rect x="490" y="449" width="1" height="3" fill="#A0A0A0"/>
<rect x="514" y="444" width="1" height="3" fill="#A0A0A0"/><rect x="514" y="449" width="1" height="3" fill="#A0A0A0"/>
<rect x="544" y="444" width="1" height="3" fill="#A0A0A0"/><rect x="544" y="449" width="1" height="3" fill="#A0A0A0"/>
<rect x="568" y="444" width="1" height="3" fill="#A0A0A0"/><rect x="568" y="449" width="1" height="3" fill="#A0A0A0"/>
<rect x="598" y="444" width="1" height="3" fill="#A0A0A0"/><rect x="598" y="449" width="1" height="3" fill="#A0A0A0"/>
<rect x="622" y="444" width="1" height="3" fill="#A0A0A0"/><rect x="622" y="449" width="1" height="3" fill="#A0A0A0"/>
<rect x="646" y="444" width="1" height="3" fill="#A0A0A0"/><rect x="646" y="449" width="1" height="3" fill="#A0A0A0"/>
<rect x="676" y="444" width="1" height="3" fill="#A0A0A0"/><rect x="676" y="449" width="1" height="3" fill="#A0A0A0"/>
<rect x="700" y="444" width="1" height="3" fill="#A0A0A0"/><rect x="700" y="449" width="1" height="3" fill="#A0A0A0"/>
<rect x="724" y="444" width="1" height="3" fill="#A0A0A0"/><rect x="724" y="449" width="1" height="3" fill="#A0A0A0"/>
<rect x="754" y="444" width="1" height="3" fill="#A0A0A0"/><rect x="754" y="449" width="1" height="3" fill="#A0A0A0"/>
<rect x="778" y="444" width="1" height="3" fill="#A0A0A0"/><rect x="778" y="449" width="1" height="3" fill="#A0A0A0"/>
<rect x="808" y="444" width="1" height="3" fill="#A0A0A0"/><rect x="808" y="449" width="1" height="3" fill="#A0A0A0"/>
<rect x="832" y="444" width="1" height="3" fill="#A0A0A0"/><rect x="832" y="449" width="1" height="3" fill="#A0A0A0"/>
<rect x="856" y="444" width="1" height="3" fill="#A0A0A0"/><rect x="856" y="449" width="1" height="3" fill="#A0A0A0"/>
<rect x="880" y="444" width="1" height="3" fill="#A0A0A0"/><rect x="880" y="449" width="1" height="3" fill="#A0A0A0"/>
<rect x="910" y="444" width="1" height="3" fill="#A0A0A0"/><rect x="910" y="449" width="1" height="3" fill="#A0A0A0"/>
<rect x="934" y="444" width="1" height="3" fill="#A0A0A0"/><rect x="934" y="449" width="1" height="3" fill="#A0A0A0"/>
<rect x="958" y="444" width="1" height="3" fill="#A0A0A0"/><rect x="958" y="449" width="1" height="3" fill="#A0A0A0"/>
<rect x="988" y="444" width="1" height="3" fill="#A0A0A0"/><rect x="988" y="449" width="1" height="3" fill="#A0A0A0"/>
<rect x="1012" y="444" width="1" height="3" fill="#A0A0A0"/><rect x="1012" y="449" width="1" height="3" fill="#A0A0A0"/>
<rect x="1042" y="444" width="1" height="3" fill="#A0A0A0"/><rect x="1042" y="449" width="1" height="3" fill="#A0A0A0"/>
<rect x="1066" y="444" width="1" height="3" fill="#A0A0A0"/><rect x="1066" y="449" width="1" height="3" fill="#A0A0A0"/>
<rect x="1090" y="444" width="1" height="3" fill="#A0A0A0"/><rect x="1090" y="449" width="1" height="3" fill="#A0A0A0"/>
<rect x="1105" y="438" width="1" height="14" fill="#909090"/>
<rect x="1105" y="589" width="1" height="9" fill="#909090"/>
<rect x="1105" y="730" width="1" height="7" fill="#909090"/>
</g>
<g shape-rendering="crispEdges">
<rect x="3" y="550" width="3" height="16" fill="#FFFF00"/>
<rect x="9" y="550" width="3" height="14" fill="#FFFF00"/>
<rect x="15" y="550" width="3" height="10" fill="#FFFF00"/>
<rect x="21" y="550" width="3" height="5" fill="#FFFF00"/>
<rect x="27" y="550" width="3" height="2" fill="#FFFF00"/>
<rect x="33" y="547" width="3" height="2" fill="#00FF00"/>
<rect x="39" y="547" width="3" height="2" fill="#00FF00"/>
<rect x="45" y="547" width="3" height="2" fill="#00FF00"/>
<rect x="51" y="547" width="3" height="2" fill="#00FF00"/>
<rect x="57" y="545" width="3" height="4" fill="#00FF00"/>
<rect x="63" y="545" width="3" height="4" fill="#00FF00"/>
<rect x="69" y="545" width="3" height="4" fill="#8470FF"/>
<rect x="75" y="544" width="3" height="5" fill="#00FF00"/>
<rect x="81" y="544" width="3" height="5" fill="#00FF00"/>
<rect x="87" y="543" width="3" height="6" fill="#00FF00"/>
<rect x="93" y="543" width="3" height="6" fill="#00FF00"/>
<rect x="99" y="541" width="3" height="8" fill="#00FF00"/>
<rect x="105" y="539" width="3" height="10" fill="#00FF00"/>
<rect x="111" y="542" width="3" height="7" fill="#8470FF"/>
<rect x="117" y="544" width="3" height="5" fill="#8470FF"/>
<rect x="123" y="545" width="3" height="4" fill="#8470FF"/>
<rect x="129" y="545" width="3" height="4" fill="#00FF00"/>
<rect x="135" y="544" width="3" height="5" fill="#00FF00"/>
<rect x="141" y="544" width="3" height="5" fill="#00FF00"/>
<rect x="147" y="544" width="3" height="5" fill="#00FF00"/>
<rect x="153" y="544" width="3" height="5" fill="#00FF00"/>
<rect x="159" y="543" width="3" height="6" fill="#00FF00"/>
<rect x="165" y="541" width="3" height="8" fill="#00FF00"/>
<rect x="171" y="537" width="3" height="12" fill="#00FF00"/>
<rect x="177" y="535" width="3" height="14" fill="#00FF00"/>
<rect x="183" y="533" width="3" height="16" fill="#00FF00"/>
<rect x="189" y="534" width="3" height="15" fill="#8470FF"/>
<rect x="195" y="534" width="3" height="15" fill="#00FF00"/>
<rect x="201" y="535" width="3" height="14" fill="#8470FF"/>
<rect x="207" y="537" width="3" height="12" fill="#8470FF"/>
<rect x="213" y="540" width="3" height="9" fill="#8470FF"/>
<rect x="219" y="537" width="3" height="12" fill="#00FF00"/>
<rect x="225" y="536" width="3" height="13" fill="#00FF00"/>
<rect x="231" y="534" width="3" height="15" fill="#00FF00"/>
<rect x="237" y="535" width="3" height="14" fill="#8470FF"/>
<rect x="243" y="534" width="3" height="15" fill="#00FF00"/>
<rect x="249" y="538" width="3" height="11" fill="#8470FF"/>
<rect x="255" y="539" width="3" height="10" fill="#8470FF"/>
<rect x="261" y="539" width="3" height="10" fill="#8470FF"/>
<rect x="267" y="542" width="3" height="7" fill="#8470FF"/>
<rect x="273" y="545" width="3" height="4" fill="#8470FF"/>
<rect x="279" y="547" width="3" height="2" fill="#8470FF"/>
<rect x="285" y="548" width="3" height="1" fill="#8470FF"/>
<rect x="297" y="550" width="3" height="2" fill="#FF0000"/>
<rect x="303" y="548" width="3" height="1" fill="#00FF00"/>
<rect x="309" y="547" width="3" height="2" fill="#00FF00"/>
<rect x="315" y="546" width="3" height="3" fill="#00FF00"/>
<rect x="321" y="547" width="3" height="2" fill="#8470FF"/>
<rect x="327" y="547" width="3" height="2" fill="#8470FF"/>
<rect x="333" y="548" width="3" height="1" fill="#8470FF"/>
<rect x="345" y="550" width="3" height="1" fill="#FF0000"/>
<rect x="351" y="550" width="3" height="4" fill="#FF0000"/>
<rect x="357" y="550" width="3" height="6" fill="#FF0000"/>
<rect x="363" y="550" width="3" height="7" fill="#FF0000"/>
<rect x="369" y="550" width="3" height="7" fill="#FF0000"/>
<rect x="375" y="550" width="3" height="7" fill="#FFFF00"/>
<rect x="381" y="550" width="3" height="6" fill="#FFFF00"/>
<rect x="387" y="550" width="3" height="5" fill="#FFFF00"/>
<rect x="393" y="550" width="3" height="4" fill="#FFFF00"/>
<rect x="399" y="550" width="3" height="3" fill="#FFFF00"/>
<rect x="405" y="550" width="3" height="1" fill="#FFFF00"/>
<rect x="411" y="546" width="3" height="3" fill="#00FF00"/>
<rect x="417" y="543" width="3" height="6" fill="#00FF00"/>
<rect x="423" y="539" width="3" height="10" fill="#00FF00"/>
<rect x="429" y="537" width="3" height="12" fill="#00FF00"/>
<rect x="435" y="536" width="3" height="13" fill="#00FF00"/>
<rect x="441" y="535" width="3" height="14" fill="#00FF00"/>
<rect x="447" y="531" width="3" height="18" fill="#00FF00"/>
<rect x="453" y="532" width="3" height="17" fill="#8470FF"/>
<rect x="459" y="533" width="3" height="16" fill="#8470FF"/>
<rect x="465" y="535" width="3" height="14" fill="#8470FF"/>
<rect x="471" y="536" width="3" height="13" fill="#8470FF"/>
<rect x="477" y="539" width="3" height="10" fill="#8470FF"/>
<rect x="483" y="542" width="3" height="7" fill="#8470FF"/>
<rect x="489" y="545" width="3" height="4" fill="#8470FF"/>
<rect x="495" y="547" width="3" height="2" fill="#8470FF"/>
<rect x="501" y="545" width="3" height="4" fill="#00FF00"/>
<rect x="507" y="541" width="3" height="8" fill="#00FF00"/>
<rect x="513" y="539" width="3" height="10" fill="#00FF00"/>
<rect x="519" y="531" width="3" height="18" fill="#00FF00"/>
<rect x="525" y="522" width="3" height="27" fill="#00FF00"/>
<rect x="531" y="520" width="3" height="29" fill="#00FF00"/>
<rect x="537" y="524" width="3" height="25" fill="#8470FF"/>
<rect x="543" y="522" width="3" height="27" fill="#00FF00"/>
<rect x="549" y="526" width="3" height="23" fill="#8470FF"/>
<rect x="555" y="531" width="3" height="18" fill="#8470FF"/>
<rect x="561" y="538" width="3" height="11" fill="#8470FF"/>
<rect x="567" y="544" width="3" height="5" fill="#8470FF"/>
<rect x="579" y="550" width="3" height="7" fill="#FF0000"/>
<rect x="585" y="550" width="3" height="6" fill="#FFFF00"/>
<rect x="591" y="550" width="3" height="5" fill="#FFFF00"/>
<rect x="597" y="550" width="3" height="6" fill="#FF0000"/>
<rect x="603" y="550" width="3" height="5" fill="#FFFF00"/>
<rect x="609" y="550" width="3" height="8" fill="#FF0000"/>
<rect x="615" y="550" width="3" height="12" fill="#FF0000"/>
<rect x="621" y="550" width="3" height="17" fill="#FF0000"/>
<rect x="627" y="550" width="3" height="23" fill="#FF0000"/>
<rect x="633" y="550" width="3" height="25" fill="#FF0000"/>
<rect x="639" y="550" width="3" height="19" fill="#FFFF00"/>
<rect x="645" y="550" width="3" height="14" fill="#FFFF00"/>
<rect x="651" y="550" width="3" height="14" fill="#FF0000"/>
<rect x="657" y="550" width="3" height="16" fill="#FF0000"/>
<rect x="663" y="550" width="3" height="17" fill="#FF0000"/>
<rect x="669" y="550" width="3" height="15" fill="#FFFF00"/>
<rect x="675" y="550" width="3" height="16" fill="#FF0000"/>
<rect x="681" y="550" width="3" height="21" fill="#FF0000"/>
<rect x="687" y="550" width="3" height="18" fill="#FFFF00"/>
<rect x="693" y="550" width="3" height="13" fill="#FFFF00"/>
<rect x="699" y="550" width="3" height="7" fill="#FFFF00"/>
<rect x="705" y="550" width="3" height="6" fill="#FFFF00"/>
<rect x="711" y="550" width="3" height="5" fill="#FFFF00"/>
<rect x="723" y="547" width="3" height="2" fill="#00FF00"/>
<rect x="729" y="544" width="3" height="5" fill="#00FF00"/>
<rect x="735" y="537" width="3" height="12" fill="#00FF00"/>
<rect x="741" y="524" width="3" height="25" fill="#00FF00"/>
<rect x="747" y="509" width="3" height="40" fill="#00FF00"/>
<rect x="753" y="504" width="3" height="45" fill="#00FF00"/>
<rect x="759" y="501" width="3" height="48" fill="#00FF00"/>
<rect x="765" y="502" width="3" height="47" fill="#8470FF"/>
<rect x="771" y="510" width="3" height="39" fill="#8470FF"/>
<rect x="777" y="519" width="3" height="30" fill="#8470FF"/>
<rect x="783" y="524" width="3" height="25" fill="#8470FF"/>
<rect x="789" y="532" width="3" height="17" fill="#8470FF"/>
<rect x="795" y="532" width="3" height="17" fill="#00FF00"/>
<rect x="801" y="533" width="3" height="16" fill="#8470FF"/>
<rect x="807" y="538" width="3" height="11" fill="#8470FF"/>
<rect x="813" y="547" width="3" height="2" fill="#8470FF"/>
<rect x="819" y="550" width="3" height="4" fill="#FF0000"/>
<rect x="825" y="550" width="3" height="11" fill="#FF0000"/>
<rect x="831" y="550" width="3" height="23" fill="#FF0000"/>
<rect x="837" y="550" width="3" height="29" fill="#FF0000"/>
<rect x="843" y="550" width="3" height="34" fill="#FF0000"/>
<rect x="849" y="550" width="3" height="36" fill="#FF0000"/>
<rect x="855" y="550" width="3" height="36" fill="#FF0000"/>
<rect x="861" y="550" width="3" height="35" fill="#FFFF00"/>
<rect x="867" y="550" width="3" height="33" fill="#FFFF00"/>
<rect x="873" y="550" width="3" height="30" fill="#FFFF00"/>
<rect x="879" y="550" width="3" height="18" fill="#FFFF00"/>
<rect x="885" y="550" width="3" height="9" fill="#FFFF00"/>
<rect x="891" y="548" width="3" height="1" fill="#00FF00"/>
<rect x="897" y="542" width="3" height="7" fill="#00FF00"/>
<rect x="903" y="535" width="3" height="14" fill="#00FF00"/>
<rect x="909" y="535" width="3" height="14" fill="#00FF00"/>
<rect x="915" y="535" width="3" height="14" fill="#8470FF"/>
<rect x="921" y="537" width="3" height="12" fill="#8470FF"/>
<rect x="927" y="540" width="3" height="9" fill="#8470FF"/>
<rect x="933" y="540" width="3" height="9" fill="#8470FF"/>
<rect x="939" y="541" width="3" height="8" fill="#8470FF"/>
<rect x="945" y="535" width="3" height="14" fill="#00FF00"/>
<rect x="951" y="532" width="3" height="17" fill="#00FF00"/>
<rect x="957" y="532" width="3" height="17" fill="#00FF00"/>
<rect x="963" y="536" width="3" height="13" fill="#8470FF"/>
<rect x="969" y="538" width="3" height="11" fill="#8470FF"/>
<rect x="975" y="540" width="3" height="9" fill="#8470FF"/>
<rect x="981" y="543" width="3" height="6" fill="#8470FF"/>
<rect x="987" y="550" width="3" height="4" fill="#FF0000"/>
<rect x="993" y="550" width="3" height="7" fill="#FF0000"/>
<rect x="999" y="550" width="3" height="6" fill="#FFFF00"/>
<rect x="1005" y="550" width="3" height="7" fill="#FF0000"/>
<rect x="1011" y="550" width="3" height="12" fill="#FF0000"/>
<rect x="1017" y="550" width="3" height="5" fill="#FFFF00"/>
<rect x="1023" y="550" width="3" height="8" fill="#FF0000"/>
<rect x="1029" y="550" width="3" height="15" fill="#FF0000"/>
<rect x="1035" y="550" width="3" height="17" fill="#FF0000"/>
<rect x="1041" y="550" width="3" height="18" fill="#FF0000"/>
<rect x="1047" y="550" width="3" height="23" fill="#FF0000"/>
<rect x="1053" y="550" width="3" height="32" fill="#FF0000"/>
<rect x="1059" y="550" width="3" height="44" fill="#FF0000"/>
<rect x="1065" y="550" width="3" height="45" fill="#FF0000"/>
<rect x="1071" y="550" width="3" height="44" fill="#FFFF00"/>
<rect x="1077" y="550" width="3" height="41" fill="#FFFF00"/>
<rect x="1083" y="550" width="3" height="39" fill="#FFFF00"/>
<rect x="1089" y="550" width="3" height="35" fill="#FFFF00"/>
<rect x="1095" y="550" width="3" height="29" fill="#FFFF00"/>
<rect x="1101" y="550" width="3" height="23" fill="#FFFF00"/>
<rect x="1107" y="550" width="3" height="14" fill="#FFFF00"/>
<rect x="4" y="549" width="1105" height="1" fill="#C8C8C8"/>
</g>
<polyline points="4,586 16,586 24,583 36,580 56,577.6 84,575 104,570 130,569 160,565 184,554 208,548 216,549 225,545 232,542.4 245,538 269,537 280,540 291,541.6 305,541 317,539.4 329,537.6 345,540 365,545 381,547.6 405,547.6 409,545 417,541.3 427.6,536.7 441.7,532.2 449,527.6 457,526 462,524 476,523 490,525 502,524 514,519 524,508 532,500 538,499 544,495 554,493.6 562,496 572,501 580,505.6 594,507 606,509 618,515 626,522 634,528.6 646,528 654,530 664,534.4 672,536 675,538 683,544 695,543.6 715,540 729,537 739,528 747,512 755,498 767,487.6 787,487.6 793,488.4 801,485.6 809,485.6 815,491 825,498 835,510 847,523 859,534 871,540 877,540.4 887,534 895,527 903,520 912,518 940,515 948,509 958,505 980,505 988,511 1004,515 1011,519 1020,517 1030,524 1044,531 1052,540 1060,554 1070,566 1080,573 1090,577 1100,577.4 1109,576" fill="none" stroke="#FFFFFF" stroke-width="2.4" stroke-linejoin="round" shape-rendering="crispEdges"/>
<polyline points="4,577.6 10,577.6 14,579.6 24,581 34,580.4 60,579 84,577 112,573.6 140,570 160,568.4 180,563.6 200,557.6 220,552.4 232,549.6 245,546 265,540 291,540 315,539 339,538.6 361,541 385,544 405,546 425,543 445,536 457,533 466,530 482,527 502,525.6 516,522.4 530,516 542,509 554,504 566,501.6 578,501 594,503 610,506 622,511 634,516 650,521 666,527 682,533.6 691,537 709,539 727,539 737,537 747,529 759,518 771,507 783,500 795,495.6 807,492 815,491.6 823,493 835,499 849,510 863,520 875,527 883,529 895,529 907,527.6 920,522 940,519 960,512.4 980,509 1000,510.4 1020,513.6 1040,521 1060,533 1076,547 1090,559 1104,567 1109,567" fill="none" stroke="#1E90FF" stroke-width="2.4" stroke-linejoin="round" shape-rendering="crispEdges"/>
<text x="302" y="537" fill="#00FF00" textLength="17" lengthAdjust="spacingAndGlyphs">1<tspan font-size="13">钝</tspan></text>
<text x="331.6" y="537" fill="#FF00FF" textLength="17" lengthAdjust="spacingAndGlyphs"><tspan font-size="13">顶</tspan>1</text>
<text x="406.5" y="538.3" fill="#00FF00" textLength="17" lengthAdjust="spacingAndGlyphs">1<tspan font-size="13">钝</tspan></text>
<text x="406" y="545" fill="#00FFFF" textLength="11" lengthAdjust="spacingAndGlyphs"><tspan font-size="13">损</tspan></text>
<text x="416" y="534" fill="#FFFF00" textLength="17" lengthAdjust="spacingAndGlyphs">1<tspan font-size="13">消</tspan></text>
<text x="423" y="534" fill="#FFFF00" textLength="17" lengthAdjust="spacingAndGlyphs">1<tspan font-size="13">消</tspan></text>
<text x="728" y="527.2" fill="#00FF00" textLength="17" lengthAdjust="spacingAndGlyphs">1<tspan font-size="13">钝</tspan></text>
<text x="752" y="483.6" fill="#FFFF00" textLength="17" lengthAdjust="spacingAndGlyphs">1<tspan font-size="13">消</tspan></text>
<text x="838" y="488" fill="#00FFFF" textLength="71" lengthAdjust="spacingAndGlyphs"><tspan font-size="13">动能量化模型</tspan></text>
<text x="895.5" y="515.7" fill="#00FF00" textLength="17" lengthAdjust="spacingAndGlyphs">1<tspan font-size="13">钝</tspan></text>
<text x="980" y="507" fill="#FF00FF" textLength="17" lengthAdjust="spacingAndGlyphs"><tspan font-size="13">顶</tspan>1</text>
<text x="1012" y="513" fill="#00FFFF" textLength="11" lengthAdjust="spacingAndGlyphs"><tspan font-size="13">损</tspan></text>
<g shape-rendering="crispEdges">
<rect x="4" y="621" width="1104" height="1" fill="#444444"/>
<rect x="4" y="642" width="1104" height="1" fill="#727272"/>
<rect x="4" y="673" width="1104" height="1" fill="#FFFFFF"/>
<rect x="4" y="704" width="1104" height="1" fill="#646464"/>
<rect x="4" y="724" width="1104" height="1" fill="#3C3C3C"/>
<rect x="45" y="673" width="117" height="1" fill="#E00000"/>
<rect x="45" y="674" width="3" height="2" fill="#E00000"/>
<rect x="51" y="674" width="3" height="2" fill="#E00000"/>
<rect x="57" y="674" width="3" height="2" fill="#E00000"/>
<rect x="63" y="674" width="3" height="4" fill="#E00000"/>
<rect x="69" y="674" width="3" height="6" fill="#E00000"/>
<rect x="75" y="674" width="3" height="5" fill="#E00000"/>
<rect x="81" y="674" width="3" height="5" fill="#E00000"/>
<rect x="87" y="674" width="3" height="5" fill="#E00000"/>
<rect x="93" y="674" width="3" height="5" fill="#E00000"/>
<rect x="99" y="674" width="3" height="3" fill="#E00000"/>
<rect x="105" y="674" width="3" height="1" fill="#E00000"/>
<rect x="111" y="674" width="3" height="4" fill="#E00000"/>
<rect x="117" y="674" width="3" height="4" fill="#E00000"/>
<rect x="123" y="674" width="3" height="5" fill="#E00000"/>
<rect x="129" y="674" width="3" height="4" fill="#E00000"/>
<rect x="135" y="674" width="3" height="4" fill="#E00000"/>
<rect x="141" y="674" width="3" height="4" fill="#E00000"/>
<rect x="147" y="674" width="3" height="4" fill="#E00000"/>
<rect x="153" y="674" width="3" height="4" fill="#E00000"/>
<rect x="159" y="674" width="3" height="4" fill="#E00000"/>
<rect x="458" y="671" width="4" height="2" fill="#10C010"/>
<rect x="507" y="670" width="3" height="3" fill="#10C010"/>
<rect x="513" y="669" width="3" height="4" fill="#10C010"/>
<rect x="519" y="668" width="3" height="5" fill="#10C010"/>
<rect x="525" y="668" width="3" height="5" fill="#10C010"/>
<rect x="735" y="670" width="3" height="3" fill="#10C010"/>
<rect x="741" y="668" width="3" height="5" fill="#10C010"/>
<rect x="747" y="666" width="3" height="7" fill="#10C010"/>
<rect x="753" y="667" width="3" height="6" fill="#10C010"/>
<rect x="759" y="669" width="3" height="4" fill="#10C010"/>
<rect x="765" y="669" width="3" height="4" fill="#10C010"/>
<rect x="801" y="672" width="3" height="1" fill="#10C010"/>
<rect x="903" y="671" width="3" height="2" fill="#10C010"/>
<rect x="447" y="669" width="3" height="4" fill="#10C010"/>
<rect x="902" y="671" width="3" height="2" fill="#10C010"/>
<rect x="945" y="668" width="3" height="5" fill="#10C010"/>
<rect x="951" y="671" width="3" height="2" fill="#10C010"/>
<rect x="940" y="672" width="2" height="1" fill="#10C010"/>
<rect x="957" y="672" width="2" height="1" fill="#10C010"/>
<rect x="506" y="672" width="23" height="1" fill="#10C010"/>
<rect x="734" y="672" width="35" height="1" fill="#10C010"/>
<rect x="757" y="618" width="19" height="1" fill="#00E000"/><rect x="763" y="617" width="13" height="1" fill="#00E000"/>
<rect x="949" y="618" width="37" height="1" fill="#00E000"/><rect x="955" y="617" width="25" height="1" fill="#00E000"/>
<rect x="1" y="702" width="31" height="2" fill="#FFFF00"/>
<rect x="49" y="702" width="30" height="2" fill="#FFFF00"/>
<rect x="79" y="702" width="25" height="2" fill="#FF00FF"/>
<rect x="104" y="702" width="29" height="2" fill="#FFFF00"/>
<rect x="133" y="702" width="25" height="2" fill="#FF00FF"/>
<rect x="158" y="702" width="12" height="2" fill="#FFFF00"/>
</g>
<g shape-rendering="crispEdges">
<rect x="4" y="705" width="1" height="14" fill="#FFFF00"/>
<rect x="10" y="705" width="1" height="14" fill="#FFFF00"/>
<rect x="16" y="705" width="1" height="12" fill="#FFFF00"/>
<rect x="64" y="705" width="1" height="12" fill="#FFFF00"/>
<rect x="70" y="705" width="1" height="14" fill="#FFFF00"/>
<rect x="76" y="705" width="1" height="14" fill="#FFFF00"/>
<rect x="82" y="705" width="1" height="14" fill="#FF00FF"/>
<rect x="88" y="705" width="1" height="14" fill="#FF00FF"/>
<rect x="94" y="705" width="1" height="14" fill="#FF00FF"/>
<rect x="100" y="705" width="1" height="12" fill="#FF00FF"/>
<rect x="112" y="705" width="1" height="13" fill="#FFFF00"/>
<rect x="118" y="705" width="1" height="14" fill="#FFFF00"/>
<rect x="124" y="705" width="1" height="14" fill="#FFFF00"/>
<rect x="130" y="705" width="1" height="14" fill="#FFFF00"/>
<rect x="136" y="705" width="1" height="13" fill="#FF00FF"/>
<rect x="142" y="705" width="1" height="13" fill="#FF00FF"/>
<rect x="148" y="705" width="1" height="13" fill="#FF00FF"/>
<rect x="154" y="705" width="1" height="13" fill="#FF00FF"/>
<rect x="427" y="643" width="37" height="1" fill="#FFFF00"/>
<rect x="511" y="643" width="31" height="1" fill="#FFFF00"/>
<rect x="739" y="643" width="43" height="1" fill="#FFFF00"/>
<rect x="442" y="628" width="1" height="15" fill="#FFFF00"/>
<rect x="448" y="625" width="1" height="18" fill="#FFFF00"/>
<rect x="526" y="628" width="1" height="15" fill="#FFFF00"/>
<rect x="754" y="628" width="1" height="15" fill="#FFFF00"/>
<rect x="760" y="628" width="1" height="15" fill="#FFFF00"/>
<rect x="766" y="628" width="1" height="15" fill="#FFFF00"/>
</g>
<polyline points="4,716 10,717.6 16,716 26,715 34,713 42,718 47,720 52,721.4 57,719.4 60,719.4 68,722 80,722 94,720.4 106,718 114,721 128,721 136,720 144,721.4 160,721.4 166,718 174,712 184,708 190,710 197,707 206,709.6 215,713.6 222,704 225,703 233,699.4 239,699.4 244,696.4 251,699.4 257,697.4 263,697.4 271,701.4 289,701.4 292,702.4 298,702.4 305,694 311,690 316,689.4 323,684 335,683.4 340,685.4 346,681.4 353,687.6 363,690.4 373,690.4 383,689.4 395,685.4 400,686.4 406,681.4 411,673 422,660 433,647 443,631 448,625.6 450,626 454,629 460,627.4 467,629.4 472,630.6 484,642 493,641.4 497,641.4 502,632 508,626.4 518,625.4 527,625.4 532,630 539,635.6 545,630.4 554,632.4 563,637.4 575,640.4 580,644 586,637 592,633.4 604,630.4 616,636.4 622,642.4 628,649.4 634,650.4 640,640 647,634.4 654,640.4 665,646.4 670,643.4 676,647.4 683,657.4 695,644.4 701,640.4 705,641.6 713,641.6 719,636.4 725,635.4 731,632.4 735,627 747,623.6 755,623.6 760,625 767,626.4 773,632.4 778,635.6 784,634.4 790,637 795,631 803,628.4 809,630.4 815,635.4 825,637.4 832,647.4 843,651 856,653.4 862,652.4 868,653.4 874,652.4 881,642.4 892,632 904,627.4 914,630.4 922,630.4 928,632.4 940,628 947,624.4 952,627.4 958,627.4 964,631.4 970,629.4 983,630.4 989,638.4 994,638.4 1001,634.4 1006,634.4 1013,639.4 1018,629.4 1025,636.4 1030,643.4 1040,643.4 1048,649 1054,659 1060,671 1066,669.4 1072,671 1078,670 1090,672.4 1102,670 1108,666.4" fill="none" stroke="#1E90FF" stroke-width="1" stroke-linejoin="round" shape-rendering="crispEdges"/>
<polyline points="4,719 10,719.4 16,717 22,714.4 28,713.6 34,710 40,713 50,717 52,717.6 55,716.5 58,716 64,716.4 69,719.4 94,719.4 106,715 112,718 124,719.4 140,717.6 156,717.6 161,716 170,700 180,686 190,676 196,659 202,652.4 208,652.4 215,660 221,645 225,642 233,634.4 244,629.4 251,636.4 262,633.6 270,641.6 279,646 298,649.4 304,640 315,634 325,633.6 335,635.6 347,638.6 353,647 363,655 381,664 389,664 395,660.4 401,661.6 407,654 413,643 425,635 431,634 441,628.4 448,625 450,626 454,629.4 460,629.4 467,632.4 472,632.4 484,643.4 491,647.4 496,647.4 502,640 510,633 518,630 527,628 532,630 539,636.4 545,632 554,634 563,638.4 575,641.4 580,645.6 586,641 592,638.4 604,635.4 616,639.4 622,647.4 628,655 634,659 640,653 647,646.4 654,650.4 665,657.4 670,655.4 676,659 683,668.4 689,666 701,656.4 707,657.4 713,660.4 719,654.4 725,652.4 732,646 737,638 747,630 755,627.6 767,627.6 773,634 779,638 786,638.4 791,641.6 797,636 803,633.4 809,635.4 815,638.4 825,641.4 831,650 841,657 855,662.4 874,666.4 881,658 890,648.4 897,640 904,636 906,635.6 922,635.6 928,637.6 946,630.4 958,632.4 965,635.4 983,636.4 988,644 994,646.4 1001,643 1007,643 1013,646.4 1018,638.4 1024,641 1030,649.4 1042,652 1049,659 1055,670 1060,682.4 1072,690 1090,703.6 1102,703.6 1108,699.4" fill="none" stroke="#FFFF00" stroke-width="1" stroke-linejoin="round" shape-rendering="crispEdges"/>
<g shape-rendering="crispEdges">
<polygon points="7,727 26,727 26,728 20,728 20,729 7,729" fill="#FF00FF"/>
<polygon points="49,727 182,727 182,728 176,728 170,728 170,730 164,730 155,731 120,731 103,730 91,731 79,730 74,730 74,729 67,729 67,728 55,728 55,727.6 49,727.6" fill="#FF00FF"/>
<polygon points="79,730 91,731 103,730 120,731 155,731 164,730 170,729 170,728 176,728 176,727 182,727 182,728 176,728 176,730 170,730 170,733 163,733 163,736 157,736 157,735 121,735 121,733 103,733 103,734 91,734 91,732 79,732" fill="#FFFFFF"/>
</g>
<text x="843.8" y="623" fill="#00FFFF" textLength="71.5" lengthAdjust="spacingAndGlyphs"><tspan font-size="13">情绪量化模型</tspan></text>
<text x="6" y="13" fill="#FFFF00" textLength="48.5" lengthAdjust="spacingAndGlyphs"><tspan font-size="13">数字监测</tspan></text>
<text x="55" y="13" fill="#FFFF00" textLength="38" lengthAdjust="spacingAndGlyphs">_CODY</text>
<text x="113.4" y="13" fill="#FF00FF" textLength="35" lengthAdjust="spacingAndGlyphs"><tspan font-size="13">红绿线</tspan></text>
<text x="153.4" y="13" fill="#FF00FF" textLength="59.4" lengthAdjust="spacingAndGlyphs">101757.86</text>
<text x="220.9" y="13" fill="#FFFFFF" textLength="36" lengthAdjust="spacingAndGlyphs"><tspan font-size="13">黄蓝线</tspan></text>
<text x="261" y="13" fill="#FFFFFF" textLength="52" lengthAdjust="spacingAndGlyphs">96022.91</text>
<text x="321.4" y="13" fill="#00FFFF" textLength="36" lengthAdjust="spacingAndGlyphs"><tspan font-size="13">震荡值</tspan></text>
<text x="362" y="13" fill="#00FFFF" textLength="22.5" lengthAdjust="spacingAndGlyphs">0.67</text>
<polyline points="95.5,8 100.2,12.4 105.0,8" fill="none" stroke="#FFFF00" stroke-width="1.4"/>
<text x="6" y="465" fill="#FFFF00" textLength="48.5" lengthAdjust="spacingAndGlyphs"><tspan font-size="13">动能量化</tspan></text>
<text x="55" y="465" fill="#FFFF00" textLength="38" lengthAdjust="spacingAndGlyphs">_CODY</text>
<text x="113.8" y="465" fill="#FFFFFF" textLength="28.2" lengthAdjust="spacingAndGlyphs"><tspan font-size="13">动能</tspan>1</text>
<text x="149" y="465" fill="#FFFFFF" textLength="48.2" lengthAdjust="spacingAndGlyphs">-4395.57</text>
<text x="206.2" y="465" fill="#1E90FF" textLength="30.3" lengthAdjust="spacingAndGlyphs"><tspan font-size="13">动能</tspan>2</text>
<text x="241.4" y="465" fill="#1E90FF" textLength="48.3" lengthAdjust="spacingAndGlyphs">-3167.81</text>
<text x="299.3" y="465" fill="#FF00FF" textLength="36" lengthAdjust="spacingAndGlyphs"><tspan font-size="13">能量柱</tspan></text>
<text x="339.7" y="465" fill="#FF00FF" textLength="49.3" lengthAdjust="spacingAndGlyphs">-2455.52</text>
<polyline points="95.5,460 100.2,464.4 105.0,460" fill="none" stroke="#FFFF00" stroke-width="1.4"/>
<text x="6" y="610.7" fill="#FFFF00" textLength="48.5" lengthAdjust="spacingAndGlyphs"><tspan font-size="13">情绪量化</tspan></text>
<text x="55" y="610.7" fill="#FFFF00" textLength="38" lengthAdjust="spacingAndGlyphs">_CODY</text>
<text x="113.3" y="610.7" fill="#1E90FF" textLength="29.9" lengthAdjust="spacingAndGlyphs"><tspan font-size="13">情绪</tspan>1</text>
<text x="148.6" y="610.7" fill="#1E90FF" textLength="30.4" lengthAdjust="spacingAndGlyphs">57.17</text>
<text x="187" y="610.7" fill="#00FFFF" textLength="29.5" lengthAdjust="spacingAndGlyphs"><tspan font-size="13">强度</tspan>1</text>
<text x="223.4" y="610.7" fill="#00FFFF" textLength="24.1" lengthAdjust="spacingAndGlyphs">0.00</text>
<text x="256.5" y="610.7" fill="#FFFF00" textLength="31" lengthAdjust="spacingAndGlyphs"><tspan font-size="13">情绪</tspan>2</text>
<text x="292.4" y="610.7" fill="#FFFF00" textLength="29.9" lengthAdjust="spacingAndGlyphs">25.28</text>
<text x="330.3" y="610.7" fill="#FF8000" textLength="31" lengthAdjust="spacingAndGlyphs"><tspan font-size="13">强度</tspan>2</text>
<text x="366.6" y="610.7" fill="#FF8000" textLength="24.1" lengthAdjust="spacingAndGlyphs">0.00</text>
<text x="399.3" y="610.7" fill="#FF0000" textLength="24.5" lengthAdjust="spacingAndGlyphs"><tspan font-size="13">底峰</tspan></text>
<text x="427.6" y="610.7" fill="#FF0000" textLength="24" lengthAdjust="spacingAndGlyphs">0.00</text>
<text x="459.6" y="610.7" fill="#00E000" textLength="24.6" lengthAdjust="spacingAndGlyphs"><tspan font-size="13">顶峰</tspan></text>
<text x="488.5" y="610.7" fill="#00E000" textLength="24.5" lengthAdjust="spacingAndGlyphs">0.00</text>
<text x="521" y="610.7" fill="#FFFF80" textLength="36" lengthAdjust="spacingAndGlyphs"><tspan font-size="13">脑电波</tspan></text>
<text x="561.2" y="610.7" fill="#FFFF80" textLength="27.8" lengthAdjust="spacingAndGlyphs">-7.22</text>
<polyline points="95.5,606 100.2,610.4 105.0,606" fill="none" stroke="#FFFF00" stroke-width="1.4"/>
<text x="2.5" y="449.5" fill="#E0E000" textLength="30.5" lengthAdjust="spacingAndGlyphs">185<tspan font-size="13">周</tspan></text>
<text x="1093.5" y="450" fill="#A8A8A8" textLength="46" lengthAdjust="spacingAndGlyphs"><tspan font-size="13">比特币</tspan>01</text>
<text x="1121" y="13" fill="#F0F000" class="mono" textLength="30" lengthAdjust="spacingAndGlyphs">Delay</text>
</svg>
</body></html>
